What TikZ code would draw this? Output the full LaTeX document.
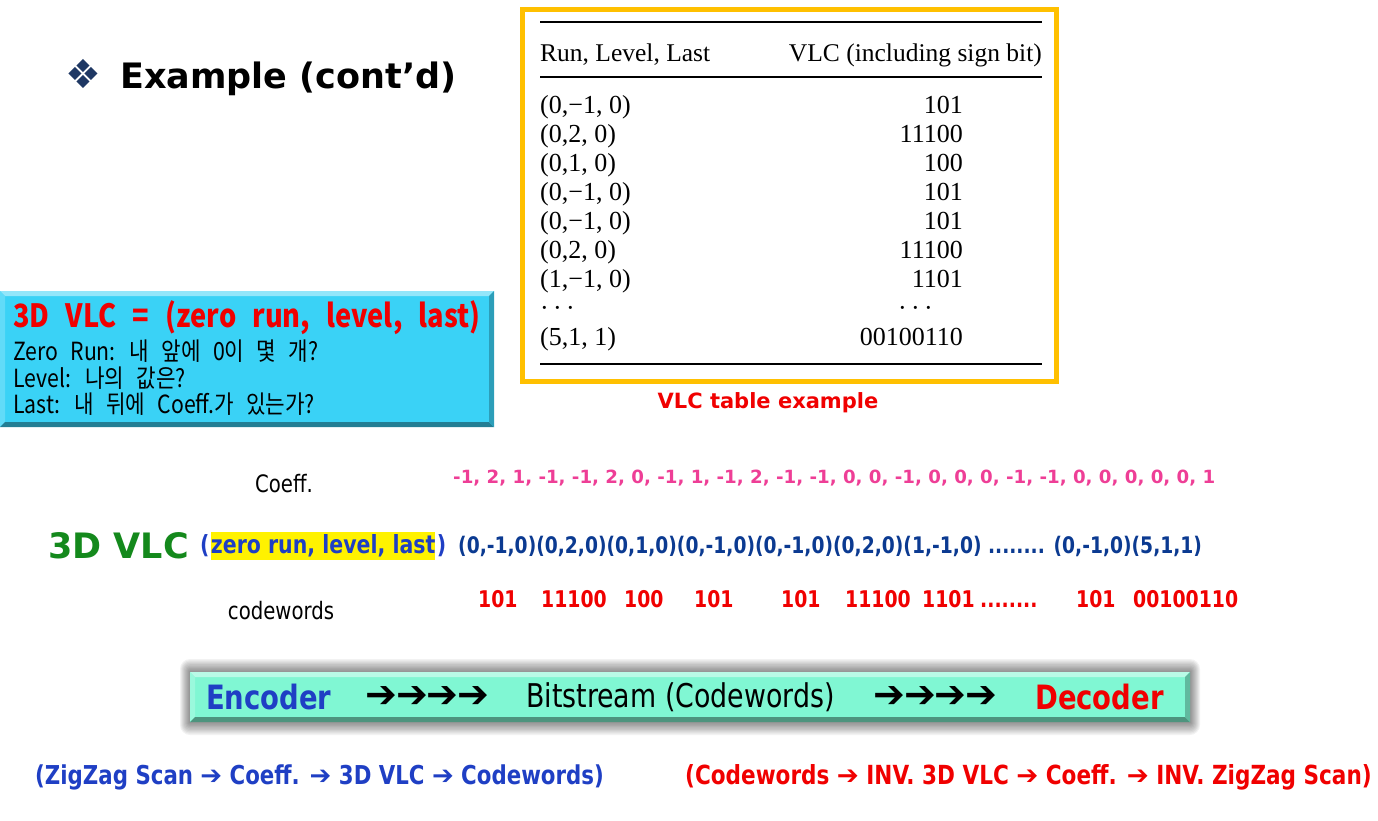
\documentclass[tikz,border=0pt]{standalone}
\usepackage{fontspec}
\setmainfont{DejaVu Sans}
\newfontfamily\tabfont{Liberation Serif}
\newfontfamily\condfont[FakeStretch=0.82]{DejaVu Sans}
\newfontfamily\krfont[FakeStretch=0.85,WordSpace=2.6]{Noto Sans CJK KR}
\newfontfamily\symfont{DejaVu Sans}
\usetikzlibrary{positioning}
\definecolor{bulletnavy}{HTML}{1F3864}
\definecolor{tablegold}{HTML}{FFC000}
\definecolor{vlccyan}{HTML}{3AD2F6}
\definecolor{streamgreen}{HTML}{80F7D3}
\definecolor{vlcgreen}{HTML}{14891C}
\definecolor{encblue}{HTML}{1F3FC4}
\definecolor{tupleblue}{HTML}{0B3A91}
\definecolor{coeffpink}{HTML}{EE3E96}
\definecolor{codered}{HTML}{F00000}
\newcommand\fs[1]{\fontsize{#1}{#1}\selectfont}
% beveled box: x1 y1 x2 y2 colour
\newcommand\bevelbox[5]{%
  \fill[#5] (#1,#2) rectangle (#3,#4);
  \fill[#5!55!white] (#1,#2) -- (#3,#2) -- (#3-5,#2+5) -- (#1+5,#2+5) -- cycle;
  \fill[#5!80!white] (#1,#2) -- (#1+5,#2+5) -- (#1+5,#4-5) -- (#1,#4) -- cycle;
  \fill[#5!60!black] (#1,#4) -- (#3,#4) -- (#3-5,#4-5) -- (#1+5,#4-5) -- cycle;
  \fill[#5!75!black] (#3,#2) -- (#3,#4) -- (#3-5,#4-5) -- (#3-5,#2+5) -- cycle;
}

\begin{document}
\begin{tikzpicture}[x=1pt,y=-1pt,inner sep=0pt,
    tabtext/.style={font=\tabfont\fs{26}},
    boldcond/.style={font=\condfont\bfseries\fs{23}},
    plaincond/.style={font=\condfont\fs{24}},
    krline/.style={anchor=base west,font=\krfont\fs{25}}]
  \useasboundingbox (0,0) rectangle (1378,820);

  % heading
  \node[text=bulletnavy,font=\symfont\fs{40}] (bullet) at (83,74) {❖};
  \node[anchor=base west,font=\bfseries\fs{35}] (title) at (120,88) {Example (cont’d)};

  % VLC table
  \draw[line width=5pt,draw=tablegold,fill=white] (522,9) rectangle (1056,381);
  \draw[line width=1.5pt] (540,22) -- (1042,22);
  \draw[line width=1.5pt] (540,77) -- (1042,77);
  \draw[line width=2pt] (540,364) -- (1042,364);
  \node[tabtext,anchor=base west,font=\tabfont\fs{25.5}] (hrun) at (540,61) {Run, Level, Last};
  \node[tabtext,anchor=base east,font=\tabfont\fs{25.5}] (hvlc) at (1042,61) {VLC (including sign bit)};
  \foreach \tup/\code/\r in {{(0,−1, 0)}/101/1,{(0,2, 0)}/11100/2,{(0,1, 0)}/100/3,
      {(0,−1, 0)}/101/4,{(0,−1, 0)}/101/5,{(0,2, 0)}/11100/6,{(1,−1, 0)}/1101/7,
      {(5,1, 1)}/00100110/9}{
    \node[tabtext,anchor=base west] (tup\r) at (540,84+29*\r) {\tup};
    \node[tabtext,anchor=base east] (code\r) at (963,84+29*\r) {\code};
  }
  \node[tabtext,anchor=base west] (tup8) at (540,316) {·\,·\,·};
  \node[tabtext,anchor=base west] (code8) at (898,316) {·\,·\,·};
  \node[text=codered,font=\bfseries\fs{21}] (tabcap) at (768,403) {VLC table example};

  % 3D VLC definition box
  \bevelbox{0}{291}{494}{427}{vlccyan}
  \node[krline,text=codered,font=\krfont\bfseries\fs{32}] (deftitle) at (13,327) {3D VLC = (zero run, level, last)};
  \node[krline] (defrun) at (13,360) {Zero Run: 내 앞에 0이 몇 개?};
  \node[krline] (deflevel) at (13,387) {Level: 나의 값은?};
  \node[krline] (deflast) at (13,413) {Last: 내 뒤에 Coeff.가 있는가?};

  % coefficients, triples and codewords
  \node[plaincond] (coefflab) at (284,484) {Coeff.};
  \node[anchor=west,text=coeffpink,font=\bfseries\fs{18.2}] (coeffs) at (453,478)
    {-1, 2, 1, -1, -1, 2, 0, -1, 1, -1, 2, -1, -1, 0, 0, -1, 0, 0, 0, -1, -1, 0, 0, 0, 0, 0, 1};
  \node[anchor=west,text=vlcgreen,font=\bfseries\fs{35}] (vlclab) at (48,546) {3D VLC};
  \node[boldcond,anchor=west,text=encblue,font=\condfont\bfseries\fs{25}] (lpar) at (200,546) {(};
  \node[boldcond,right=1pt of lpar,text=encblue,fill=yellow,inner ysep=2.5pt,font=\condfont\bfseries\fs{25}] (zrl) {zero run, level, last};
  \node[boldcond,right=1pt of zrl,text=encblue,font=\condfont\bfseries\fs{25}] (rpar) {)};
  \node[boldcond,anchor=west,text=tupleblue,font=\condfont\bfseries\fs{22.8}] (tuples) at (458,546)
    {(0,-1,0)(0,2,0)(0,1,0)(0,-1,0)(0,-1,0)(0,2,0)(1,-1,0) ........ (0,-1,0)(5,1,1)};
  \node[plaincond] (cwlab) at (281,611) {codewords};
  \foreach \cw/\x [count=\i] in {101/478,11100/541,100/624,101/694,101/781,11100/845,
      1101/922,101/1076,00100110/1133}{
    \node[boldcond,anchor=west,text=codered] (cw\i) at (\x,599) {\cw};
  }
  \node[boldcond,anchor=base west,text=codered] (cwdots) at (980,607) {........};

  % bitstream bar
  \foreach \d in {1,...,10}
    \fill[black,opacity=0.05,rounded corners=\d pt] (190-\d,672-1.3*\d) rectangle (1190+\d,722+1.3*\d);
  \bevelbox{190}{672}{1190}{722}{streamgreen}
  \node[anchor=west,text=encblue,font=\condfont\bfseries\fs{33.5}] (enc) at (206,697) {Encoder};
  \node[anchor=west,font=\symfont\fs{38}] (arrl) at (365,697) {➔\kern-1pt➔\kern-1pt➔\kern-1pt➔};
  \node[anchor=west,font=\condfont\fs{32.7}] (bits) at (526,697) {Bitstream (Codewords)};
  \node[anchor=west,font=\symfont\fs{38}] (arrr) at (873,697) {➔\kern-1pt➔\kern-1pt➔\kern-1pt➔};
  \node[anchor=west,text=codered,font=\condfont\bfseries\fs{33.5}] (dec) at (1035,697) {Decoder};

  % encoder and decoder chains
  \node[boldcond,anchor=west,text=encblue,font=\condfont\bfseries\fs{26}] (encchain) at (35,777)
    {(ZigZag Scan {\symfont➔} Coeff. {\symfont➔} 3D VLC {\symfont➔} Codewords)};
  \node[boldcond,anchor=west,text=codered,font=\condfont\bfseries\fs{26.3}] (decchain) at (685,777)
    {(Codewords {\symfont➔} INV. 3D VLC {\symfont➔} Coeff. {\symfont➔} INV. ZigZag Scan)};
\end{tikzpicture}
\end{document}
